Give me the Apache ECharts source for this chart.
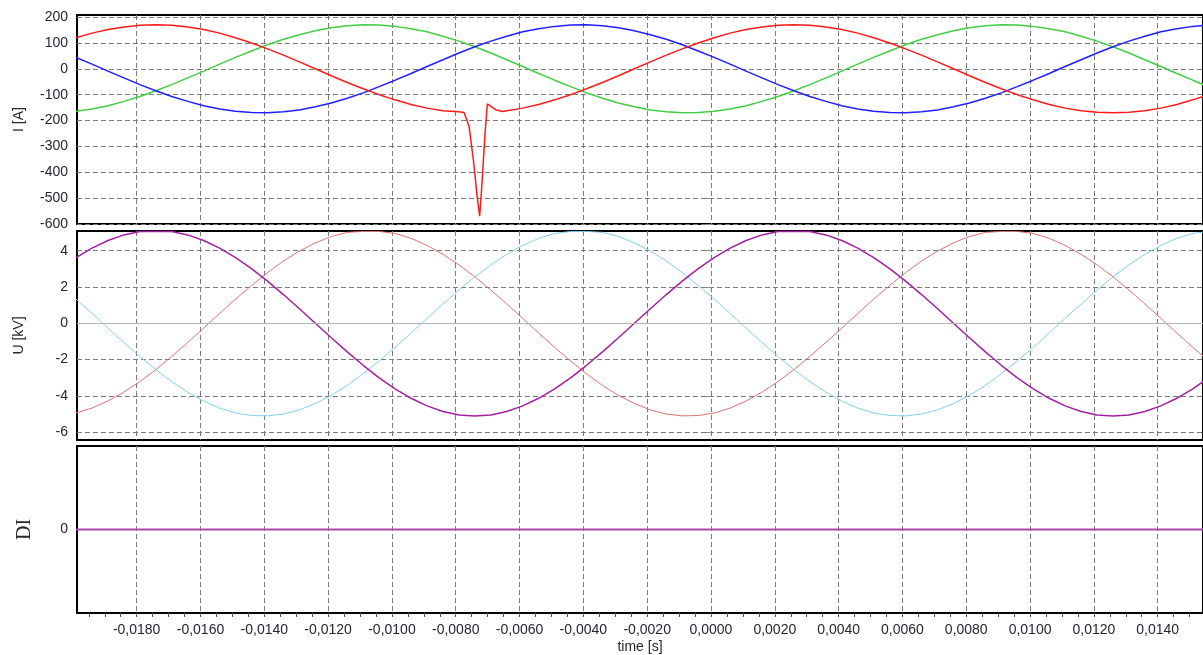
<!DOCTYPE html>
<html><head><meta charset="utf-8">
<script src="https://cdn.jsdelivr.net/npm/echarts@6/dist/echarts.min.js"></script>
<style>html,body{margin:0;padding:0;background:#fff}#c{width:1203px;height:655px}</style>
</head><body><div id="c"></div>
<script>
// ---- data ----
const time = [
-0.0199,-0.0194,-0.0189,-0.0184,-0.0179,-0.0174,-0.0169,-0.0164,-0.0159,-0.0154,
-0.0149,-0.0144,-0.0139,-0.0134,-0.0129,-0.0124,-0.0119,-0.0114,-0.0109,-0.0104,
-0.0099,-0.0094,-0.0089,-0.0084,-0.0079,-0.0074,-0.0069,-0.0064,-0.0059,-0.0054,
-0.0049,-0.0044,-0.0039,-0.0034,-0.0029,-0.0024,-0.0019,-0.0014,-0.0009,-0.0004,
0.0001,0.0006,0.0011,0.0016,0.0021,0.0026,0.0031,0.0036,0.0041,0.0046,
0.0051,0.0056,0.0061,0.0066,0.0071,0.0076,0.0081,0.0086,0.0091,0.0096,
0.0101,0.0106,0.0111,0.0116,0.0121,0.0126,0.0131,0.0136,0.0141,0.0146,
0.0151,0.0156];
const currentL1 = [
120,138,152,162,168,170,168,162,152,138,
120,100,77,53,27,0,-27,-53,-77,-100,
-120,-138,-152,-162,-166,-170,-168,-162,-152,-138,
-120,-100,-77,-53,-27,0,27,53,77,100,
120,138,152,162,168,170,168,162,152,138,
120,100,77,53,27,0,-27,-53,-77,-100,
-120,-138,-152,-162,-168,-170,-168,-162,-152,-138,
-120,-100];
const currentL2 = [
-164,-155,-143,-126,-107,-85,-61,-35,-9,18,
44,69,93,114,132,147,159,166,170,169,
164,155,143,126,107,85,61,35,9,-18,
-44,-69,-93,-114,-132,-147,-159,-166,-170,-169,
-164,-155,-143,-126,-107,-85,-61,-35,-9,18,
44,69,93,114,132,147,159,166,170,169,
164,155,143,126,107,85,61,35,9,-18,
-44,-69];
const currentL3 = [
44,18,-9,-35,-61,-85,-107,-126,-143,-155,
-164,-169,-170,-166,-159,-147,-132,-114,-93,-69,
-44,-18,9,35,61,85,107,126,143,155,
164,169,170,166,159,147,132,114,93,69,
44,18,-9,-35,-61,-85,-107,-126,-143,-155,
-164,-169,-170,-166,-159,-147,-132,-114,-93,-69,
-44,-18,9,35,61,85,107,126,143,155,
164,169];
const faultTime = [-0.00774,-0.00758,-0.00743,-0.00733,-0.00725,-0.00719,-0.00708,-0.00701,-0.00675,-0.00654];
const faultCurrent = [-169,-223,-371,-493,-570,-467,-247,-136,-158,-165];
const voltageL1 = [
3.62,4.14,4.56,4.87,5.06,5.06,5.06,4.87,4.56,4.14,
3.62,3.01,2.32,1.58,0.80,0,-0.80,-1.58,-2.32,-3.01,
-3.62,-4.14,-4.56,-4.87,-5.06,-5.12,-5.06,-4.87,-4.56,-4.14,
-3.62,-3.01,-2.32,-1.58,-0.80,0,0.80,1.58,2.32,3.01,
3.62,4.14,4.56,4.87,5.06,5.06,5.06,4.87,4.56,4.14,
3.62,3.01,2.32,1.58,0.80,0,-0.80,-1.58,-2.32,-3.01,
-3.62,-4.14,-4.56,-4.87,-5.06,-5.12,-5.06,-4.87,-4.56,-4.14,
-3.62,-3.01];
const voltageL2 = [
-4.95,-4.68,-4.29,-3.80,-3.22,-2.56,-1.83,-1.06,-0.27,0.54,
1.33,2.08,2.79,3.43,3.98,4.43,4.78,5.01,5.06,5.06,
4.95,4.68,4.29,3.80,3.22,2.56,1.83,1.06,0.27,-0.54,
-1.33,-2.08,-2.79,-3.43,-3.98,-4.43,-4.78,-5.01,-5.11,-5.09,
-4.95,-4.68,-4.29,-3.80,-3.22,-2.56,-1.83,-1.06,-0.27,0.54,
1.33,2.08,2.79,3.43,3.98,4.43,4.78,5.01,5.06,5.06,
4.95,4.68,4.29,3.80,3.22,2.56,1.83,1.06,0.27,-0.54,
-1.33,-2.08];
const voltageL3 = [
1.33,0.54,-0.27,-1.06,-1.83,-2.56,-3.22,-3.80,-4.29,-4.68,
-4.95,-5.09,-5.11,-5.01,-4.78,-4.43,-3.98,-3.43,-2.79,-2.08,
-1.33,-0.54,0.27,1.06,1.83,2.56,3.22,3.80,4.29,4.68,
4.95,5.06,5.06,5.01,4.78,4.43,3.98,3.43,2.79,2.08,
1.33,0.54,-0.27,-1.06,-1.83,-2.56,-3.22,-3.80,-4.29,-4.68,
-4.95,-5.09,-5.11,-5.01,-4.78,-4.43,-3.98,-3.43,-2.79,-2.08,
-1.33,-0.54,0.27,1.06,1.83,2.56,3.22,3.80,4.29,4.68,
4.95,5.06];
const diTime = [-0.0199, 0.0156];
const diValues = [0, 0];
const timeTicks = [-0.018,-0.016,-0.014,-0.012,-0.010,-0.008,-0.006,-0.004,-0.002,0,0.002,0.004,0.006,0.008,0.010,0.012,0.014];
const currentTicks = [-600,-500,-400,-300,-200,-100,0,100,200];
const voltageTicks = [-6,-4,-2,0,2,4];
const diTicks = [0];

// ---- layout / style ----
const X_MIN = -0.01987, X_MAX = 0.01542;
const FONT = 'Liberation Sans';
const TXT = '#262633';
const GRIDLINE = {show:true, lineStyle:{color:'#7a7a7a', type:[5,3], width:1}};

const pairs = (xs, ys) => xs.map((x, i) => [x, ys[i]]);
const f0 = faultTime[0] - 0.00005, f1 = faultTime[faultTime.length - 1] + 0.00005;
const redData = pairs(time, currentL1).filter(p => p[0] < f0 || p[0] > f1)
  .concat(pairs(faultTime, faultCurrent)).sort((a, b) => a[0] - b[0]);

const minorTicks = [];
for (let i = -3; i <= (timeTicks.length - 1) * 4 + 3; i++) {
  const v = +(timeTicks[0] + i * 0.0005).toFixed(5);
  if (v > X_MIN && v < X_MAX) minorTicks.push(v);
}

function xAxisFor(grid, bottom) {
  return {
    type:'value', gridIndex:grid, min:X_MIN, max:X_MAX, position:'bottom',
    axisLine:{show:false},
    axisTick:{show:false, customValues: timeTicks},
    axisLabel:{show:bottom, customValues: timeTicks, margin:10, color:TXT, fontFamily:FONT, fontSize:14,
      formatter: v => (Math.abs(v) < 1e-9 ? 0 : v).toFixed(4).replace('.', ',')},
    splitLine: GRIDLINE,
    name: bottom ? 'time [s]' : '', nameLocation:'middle', nameGap:27,
    nameTextStyle:{color:TXT, fontFamily:FONT, fontSize:14}
  };
}
function yAxisFor(grid, min, max, ticks, name, nameStyle, gap, split) {
  return {
    type:'value', gridIndex:grid, min:min, max:max, splitNumber:6,
    axisLine:{show:false},
    axisTick:{show:true, length:5, customValues:ticks, lineStyle:{color:'#8c8c8c'}},
    axisLabel:{customValues:ticks, margin:9, color:TXT, fontFamily:FONT, fontSize:14},
    splitLine: split ? GRIDLINE : {show:false},
    name:name, nameLocation:'middle', nameRotate:90, nameGap:gap,
    nameTextStyle:nameStyle
  };
}
const sans = {color:TXT, fontFamily:FONT, fontSize:14};
const serif = {color:TXT, fontFamily:'Liberation Serif', fontSize:20};

const gridBase = {left:77, right:-3, show:true, borderColor:'#000', borderWidth:2, backgroundColor:'#fff'};
const line = (name, xi, yi, data, color, width) => ({
  name, type:'line', xAxisIndex:xi, yAxisIndex:yi, data, showSymbol:false, symbol:'none',
  lineStyle:{color, width}, itemStyle:{color}, animation:false, silent:true
});

const option = {
  animation:false,
  grid:[
    Object.assign({top:15, height:209}, gridBase),
    Object.assign({top:231, height:209}, gridBase),
    Object.assign({top:446, height:167}, gridBase)
  ],
  xAxis:[
    xAxisFor(0, false), xAxisFor(1, false), xAxisFor(2, true),
    {type:'value', gridIndex:2, min:X_MIN, max:X_MAX, position:'bottom',
     axisLine:{show:false}, splitLine:{show:false}, axisLabel:{show:false},
     axisTick:{show:true, length:4, customValues:minorTicks, lineStyle:{color:'#555'}}}
  ],
  yAxis:[
    yAxisFor(0, -600, 208, currentTicks, 'I [A]', sans, 51, true),
    yAxisFor(1, -6.44, 5.085, voltageTicks, 'U [kV]', sans, 51, true),
    yAxisFor(2, -1, 1, diTicks, 'DI', serif, 42, false)
  ],
  series:[
    line('I L2', 0, 0, pairs(time, currentL2), '#44cc44', 1.5),
    line('I L3', 0, 0, pairs(time, currentL3), '#1f1fff', 1.5),
    line('I L1', 0, 0, redData, '#ff1a1a', 1.5),
    Object.assign(line('U L3', 1, 1, pairs(time, voltageL3), '#7fd0f0', 1), {
      markLine:{silent:true, symbol:'none', label:{show:false}, animation:false,
        lineStyle:{color:'#b4b4b4', type:'solid', width:1}, data:[{yAxis:0}]}
    }),
    line('U L2', 1, 1, pairs(time, voltageL2), '#e07272', 1),
    line('U L1', 1, 1, pairs(time, voltageL1), '#a020a0', 1.5),
    line('DI', 2, 2, pairs(diTime, diValues), '#a848a8', 2)
  ]
};
const chart = echarts.init(document.getElementById('c'), null, {renderer:'canvas'});
chart.setOption(option);
</script>
</body></html>
